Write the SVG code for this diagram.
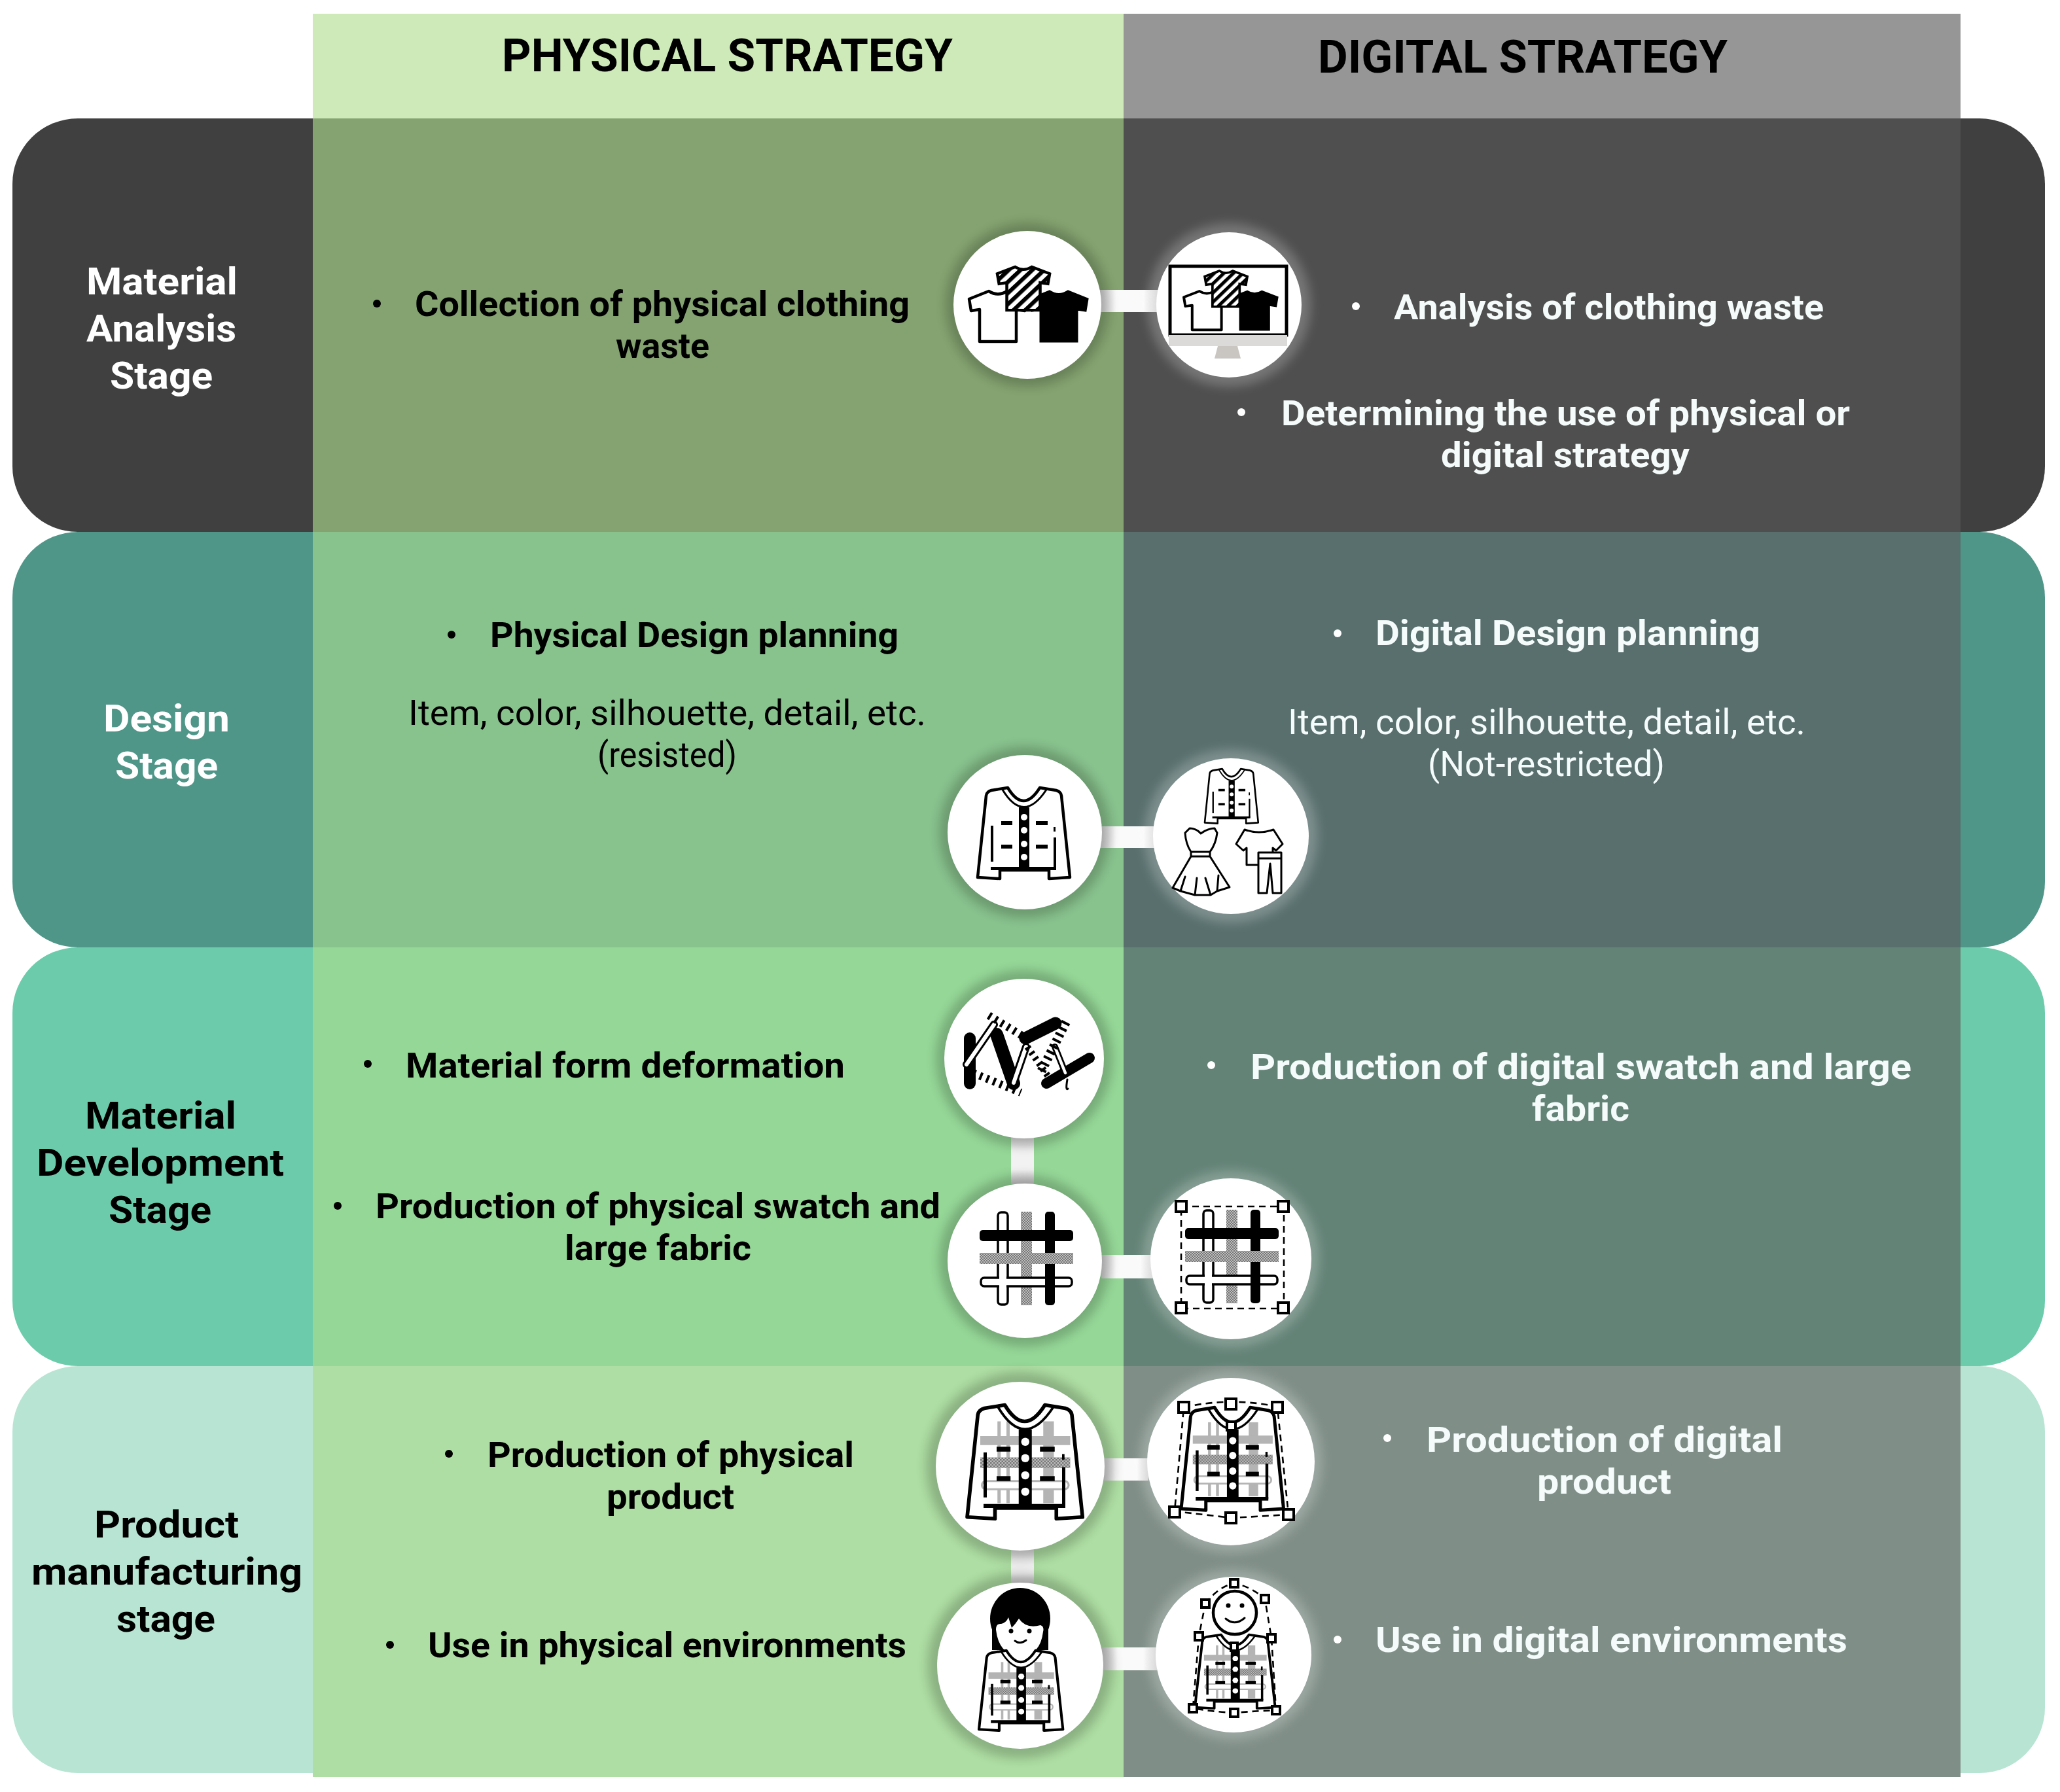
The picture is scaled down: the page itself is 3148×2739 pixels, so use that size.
<svg xmlns="http://www.w3.org/2000/svg" width="3148" height="2739" viewBox="0 0 3148 2739">
<style>
text{font-family:Roboto,"Noto Sans","Liberation Sans",sans-serif;font-weight:700;font-size:54px;fill:#000}
.w{fill:#f4fbfa}
.n{font-weight:400}
.h{font-size:70px;font-weight:700}
.l{font-size:58px;font-weight:700}
.lw{fill:#fff}
.bw{fill:#fff}
.disc{fill:#fff}
.ol{fill:none;stroke:#000;stroke-width:4.5;stroke-linejoin:round;stroke-linecap:round}
.thin{fill:none;stroke:#000;stroke-width:3;stroke-linejoin:round;stroke-linecap:round}
.dash{fill:none;stroke:#000;stroke-width:2.6;stroke-dasharray:10 7}
.hd{fill:#fff;stroke:#000;stroke-width:4}
.cx{fill:url(#cg)}
.cy{fill:url(#cv)}
.gd{fill:#000;opacity:.2;filter:url(#blur)}
.gl{fill:#fff;opacity:.22;filter:url(#blur)}
</style>
<defs>
<filter id="blur" x="-30%" y="-30%" width="160%" height="160%"><feGaussianBlur stdDeviation="8"/></filter>
<linearGradient id="cg"><stop offset="0" stop-color="#cfcfcf"/><stop offset=".28" stop-color="#fafafa"/><stop offset=".75" stop-color="#fafafa"/><stop offset="1" stop-color="#cfcfcf"/></linearGradient>
<linearGradient id="cv" x1="0" y1="0" x2="0" y2="1"><stop offset="0" stop-color="#d2d2d2"/><stop offset=".3" stop-color="#f2f2f2"/><stop offset=".7" stop-color="#f2f2f2"/><stop offset="1" stop-color="#c6c6c6"/></linearGradient>
<pattern id="st" width="14" height="14" patternUnits="userSpaceOnUse" patternTransform="rotate(45)"><rect width="14" height="14" fill="#fff"/><rect width="7" height="14" fill="#000"/></pattern>
<pattern id="ht" width="4" height="4" patternUnits="userSpaceOnUse"><rect width="4" height="4" fill="#bdbdbd"/><rect width="2" height="2" fill="#777"/><rect x="2" y="2" width="2" height="2" fill="#777"/></pattern>
<path id="tee" d="M30 0Q44 9 58 0L88 12L85 30L72 28V77H16V28L3 30L0 12Z"/>
<g id="jk">
<path class="ol" d="M46 2L21 6Q14 8 13 14L0 139L34 141V128H109V141L141 139L128 14Q127 8 120 6L95 2Q70 42 46 2Z"/>
<path class="thin" d="M38 5Q70 58 105 5"/>
<rect x="63" y="32" width="16" height="96"/>
<g class="bw"><circle cx="71" cy="47" r="5"/><circle cx="71" cy="67" r="5"/><circle cx="71" cy="88" r="5"/><circle cx="71" cy="108" r="5"/></g>
<rect x="36" y="53" width="17" height="6"/><rect x="89" y="53" width="18" height="6"/><rect x="36" y="89" width="17" height="6"/><rect x="89" y="89" width="18" height="6"/>
<rect x="20" y="60" width="4" height="55"/><rect x="116" y="78" width="4" height="48"/><rect x="116" y="62" width="3" height="7"/>
<rect x="20" y="123" width="100" height="5"/>
</g>
<g id="jp">
<g fill="#b4b4b4"><rect x="37" y="22" width="4" height="100"/><rect x="48" y="22" width="4" height="100"/><rect x="93" y="22" width="13" height="100"/><rect x="16" y="40" width="110" height="11"/></g>
<rect x="16" y="66" width="110" height="13" fill="url(#ht)"/>
<rect x="18" y="95" width="106" height="10" rx="5" fill="#fff" stroke="#b4b4b4" stroke-width="2.5"/>
<use href="#jk"/>
</g>
<g id="pl">
<rect x="28" y="1" width="15" height="141" rx="5" fill="#fff" stroke="#000" stroke-width="3.5"/>
<rect x="63" y="0" width="17" height="143" fill="url(#ht)"/>
<rect x="100" y="0" width="15" height="143" rx="5"/>
<rect x="0" y="28" width="143" height="17" rx="5"/>
<rect x="0" y="63" width="143" height="17" fill="url(#ht)"/>
<rect x="2" y="101" width="139" height="13" rx="5" fill="#fff" stroke="#000" stroke-width="3.5"/>
<rect x="30" y="97" width="11" height="20" fill="#fff"/>
<rect x="100" y="96" width="15" height="23"/>
</g>
</defs>

<g id="background">
<rect x="0" y="0" width="3148" height="2739" fill="#fff"/>
<rect x="19" y="181" width="3106" height="632" rx="100" fill="#404040"/>
<rect x="19" y="813" width="3106" height="635" rx="100" fill="#4f9689"/>
<rect x="19" y="1448" width="3106" height="640" rx="100" fill="#6ccbab"/>
<rect x="19" y="2088" width="3106" height="622" rx="100" fill="#b8e4d3"/>
<rect x="478" y="21" width="1239" height="160" fill="#cdeab8"/>
<rect x="478" y="181" width="1239" height="632" fill="#84a370"/>
<rect x="478" y="813" width="1239" height="635" fill="#88c28d"/>
<rect x="478" y="1448" width="1239" height="640" fill="#95d797"/>
<rect x="478" y="2088" width="1239" height="628" fill="#aedea3"/>
<rect x="1717" y="21" width="1279" height="160" fill="#969696"/>
<rect x="1717" y="181" width="1279" height="632" fill="#4f4f4f"/>
<rect x="1717" y="813" width="1279" height="635" fill="#586f6d"/>
<rect x="1717" y="1448" width="1279" height="640" fill="#648377"/>
<rect x="1717" y="2088" width="1279" height="628" fill="#7f8e87"/>
</g>

<g id="headers">
<text class="h" x="767" y="109" textLength="689" lengthAdjust="spacingAndGlyphs">PHYSICAL STRATEGY</text>
<text class="h" x="2014" y="111" textLength="626" lengthAdjust="spacingAndGlyphs">DIGITAL STRATEGY</text>
</g>

<g id="stage-labels">
<text class="l lw" x="132" y="450" textLength="231" lengthAdjust="spacingAndGlyphs">Material</text>
<text class="l lw" x="132" y="522" textLength="229" lengthAdjust="spacingAndGlyphs">Analysis</text>
<text class="l lw" x="168" y="594" textLength="157" lengthAdjust="spacingAndGlyphs">Stage</text>
<text class="l lw" x="158" y="1118" textLength="193" lengthAdjust="spacingAndGlyphs">Design</text>
<text class="l lw" x="176" y="1190" textLength="157" lengthAdjust="spacingAndGlyphs">Stage</text>
<text class="l" x="130" y="1725" textLength="231" lengthAdjust="spacingAndGlyphs">Material</text>
<text class="l" x="56" y="1797" textLength="378" lengthAdjust="spacingAndGlyphs">Development</text>
<text class="l" x="166" y="1869" textLength="157" lengthAdjust="spacingAndGlyphs">Stage</text>
<text class="l" x="144" y="2350" textLength="221" lengthAdjust="spacingAndGlyphs">Product</text>
<text class="l" x="48" y="2422" textLength="414" lengthAdjust="spacingAndGlyphs">manufacturing</text>
<text class="l" x="178" y="2494" textLength="151" lengthAdjust="spacingAndGlyphs">stage</text>
</g>

<g id="physical-texts">
<circle cx="576" cy="464" r="6"/>
<text x="634" y="483" textLength="756" lengthAdjust="spacingAndGlyphs">Collection of physical clothing</text>
<text x="941" y="547" textLength="143" lengthAdjust="spacingAndGlyphs">waste</text>
<circle cx="690" cy="970" r="6"/>
<text x="749" y="989" textLength="624" lengthAdjust="spacingAndGlyphs">Physical Design planning</text>
<text class="n" x="624" y="1108" textLength="791" lengthAdjust="spacingAndGlyphs">Item, color, silhouette, detail, etc.</text>
<text class="n" x="913" y="1172" textLength="213" lengthAdjust="spacingAndGlyphs">(resisted)</text>
<circle cx="562" cy="1626" r="6"/>
<text x="620" y="1647" textLength="671" lengthAdjust="spacingAndGlyphs">Material form deformation</text>
<circle cx="516" cy="1843" r="6"/>
<text x="574" y="1862" textLength="863" lengthAdjust="spacingAndGlyphs">Production of physical swatch and</text>
<text x="863" y="1926" textLength="285" lengthAdjust="spacingAndGlyphs">large fabric</text>
<circle cx="686" cy="2222" r="6"/>
<text x="745" y="2242" textLength="560" lengthAdjust="spacingAndGlyphs">Production of physical</text>
<text x="927" y="2306" textLength="195" lengthAdjust="spacingAndGlyphs">product</text>
<circle cx="596" cy="2514" r="6"/>
<text x="654" y="2533" textLength="731" lengthAdjust="spacingAndGlyphs">Use in physical environments</text>
</g>

<g id="digital-texts">
<circle class="disc" cx="2072" cy="468" r="6"/>
<text class="w" x="2130" y="488" textLength="657" lengthAdjust="spacingAndGlyphs">Analysis of clothing waste</text>
<circle class="disc" cx="1897" cy="630" r="6"/>
<text class="w" x="1958" y="650" textLength="869" lengthAdjust="spacingAndGlyphs">Determining the use of physical or</text>
<text class="w" x="2202" y="714" textLength="380" lengthAdjust="spacingAndGlyphs">digital strategy</text>
<circle class="disc" cx="2044" cy="968" r="6"/>
<text class="w" x="2102" y="986" textLength="588" lengthAdjust="spacingAndGlyphs">Digital Design planning</text>
<text class="w n" x="1968" y="1122" textLength="791" lengthAdjust="spacingAndGlyphs">Item, color, silhouette, detail, etc.</text>
<text class="w n" x="2182" y="1186" textLength="362" lengthAdjust="spacingAndGlyphs">(Not-restricted)</text>
<circle class="disc" cx="1851" cy="1628" r="6"/>
<text class="w" x="1911" y="1649" textLength="1010" lengthAdjust="spacingAndGlyphs">Production of digital swatch and large</text>
<text class="w" x="2341" y="1713" textLength="149" lengthAdjust="spacingAndGlyphs">fabric</text>
<circle class="disc" cx="2120" cy="2198" r="6"/>
<text class="w" x="2180" y="2219" textLength="544" lengthAdjust="spacingAndGlyphs">Production of digital</text>
<text class="w" x="2349" y="2283" textLength="205" lengthAdjust="spacingAndGlyphs">product</text>
<circle class="disc" cx="2044" cy="2506" r="6"/>
<text class="w" x="2102" y="2525" textLength="721" lengthAdjust="spacingAndGlyphs">Use in digital environments</text>
</g>

<g id="connectors">
<rect class="cx" x="1680" y="443" width="90" height="34"/>
<rect class="cx" x="1680" y="1263" width="90" height="33"/>
<rect class="cx" x="1683" y="1918" width="80" height="36"/>
<rect class="cx" x="1685" y="2229" width="70" height="34"/>
<rect class="cx" x="1684" y="2518" width="84" height="35"/>
<rect class="cy" x="1545" y="1735" width="35" height="75"/>
<rect class="cy" x="1545" y="2366" width="35" height="56"/>
</g>

<g id="node-collect">
<circle class="gd" cx="1570" cy="466" r="125"/>
<circle cx="1570" cy="466" r="113" fill="#fff"/>
<use href="#tee" transform="translate(1481 445)" fill="#fff" stroke="#000" stroke-width="4.5" stroke-linejoin="round"/>
<use href="#tee" transform="translate(1574 445)" stroke="#000" stroke-width="3"/>
<use href="#tee" transform="translate(1524 408) scale(.91 .86)" fill="url(#st)" stroke="#000" stroke-width="5"/>
</g>

<g id="node-analysis">
<circle class="gl" cx="1878" cy="466" r="125"/>
<circle cx="1878" cy="466" r="111" fill="#fff"/>
<rect x="1788" y="407" width="178" height="105" fill="#fff" stroke="#000" stroke-width="5"/>
<rect x="1786" y="512" width="181" height="17" fill="#dcdad8"/>
<path d="M1861 529H1891L1896 548H1856Z" fill="#c9c6c2"/>
<use href="#tee" transform="translate(1809 445) scale(.8 .77)" fill="#fff" stroke="#000" stroke-width="5" stroke-linejoin="round"/>
<use href="#tee" transform="translate(1882 445) scale(.8 .77)" stroke="#000" stroke-width="3"/>
<use href="#tee" transform="translate(1841 414) scale(.74 .71)" fill="url(#st)" stroke="#000" stroke-width="5"/>
</g>

<g id="node-jacket">
<circle class="gd" cx="1566" cy="1272" r="131"/>
<circle cx="1566" cy="1272" r="118" fill="#fff"/>
<use href="#jk" transform="translate(1494 1202)"/>
</g>

<g id="node-garments">
<circle class="gl" cx="1881" cy="1278" r="133"/>
<circle cx="1881" cy="1278" r="119" fill="#fff"/>
<use href="#jk" transform="translate(1841 1174) scale(.58 .6)"/>
<path class="thin" d="M1811 1273L1818 1266Q1828 1266 1835 1274Q1846 1266 1856 1266L1860 1273Q1858 1290 1849 1302V1309L1879 1356L1860 1362L1850 1368H1826L1804 1362L1792 1357L1820 1309V1302Q1812 1290 1811 1273ZM1820 1302H1849M1820 1309H1849M1811 1340L1804 1362M1829 1342L1826 1368M1842 1342L1850 1368M1862 1338L1860 1362"/>
<path class="thin" d="M1921 1322H1905V1296L1900 1300L1889 1290L1902 1268Q1924 1276 1946 1268L1960 1290L1950 1300L1945 1296V1302"/>
<path class="thin" d="M1923 1303H1958V1365H1945L1941 1320L1936 1365H1923ZM1923 1312H1958"/>
</g>

<g id="node-deform">
<circle class="gd" cx="1565" cy="1618" r="135"/>
<circle cx="1565" cy="1618" r="122" fill="#fff"/>
<g stroke-linecap="round" fill="none">
<path d="M1482 1587V1656" stroke="#000" stroke-width="18"/>
<path d="M1523 1581L1549 1656" stroke="#000" stroke-width="20"/>
<path d="M1567 1587L1613 1564" stroke="#000" stroke-width="19"/>
<path d="M1599 1656L1665 1617" stroke="#000" stroke-width="16"/>
<path d="M1477 1627L1519 1566" stroke="#000" stroke-width="12"/><path d="M1477 1627L1519 1566" stroke="#fff" stroke-width="6"/>
<path d="M1549 1655L1568 1600" stroke="#000" stroke-width="12"/><path d="M1549 1655L1568 1600" stroke="#fff" stroke-width="6"/>
<path d="M1612 1600L1628 1640" stroke="#000" stroke-width="10"/><path d="M1612 1600L1628 1640" stroke="#fff" stroke-width="4.5"/>
<path d="M1631 1650Q1628 1668 1632 1664" stroke="#000" stroke-width="3"/>
<path d="M1511 1552L1575 1591" stroke="#000" stroke-width="12" stroke-dasharray="4 7" stroke-linecap="butt"/>
<path d="M1487 1640L1560 1670" stroke="#000" stroke-width="12" stroke-dasharray="4 7" stroke-linecap="butt"/>
<path d="M1629 1562L1590 1640" stroke="#000" stroke-width="14" stroke-dasharray="4 6" stroke-linecap="butt"/>
<path d="M1570 1600L1605 1650" stroke="#000" stroke-width="10" stroke-dasharray="4 6" stroke-linecap="butt"/>
</g>
</g>

<g id="node-swatch">
<circle class="gd" cx="1566" cy="1927" r="131"/>
<circle cx="1566" cy="1927" r="118" fill="#fff"/>
<use href="#pl" transform="translate(1497 1852)"/>
</g>

<g id="node-digital-swatch">
<circle class="gl" cx="1881" cy="1924" r="135"/>
<circle cx="1881" cy="1924" r="123" fill="#fff"/>
<use href="#pl" transform="translate(1811 1849)"/>
<rect class="dash" x="1805" y="1844" width="157" height="156"/>
<rect class="hd" x="1797" y="1836" width="16" height="16"/>
<rect class="hd" x="1953" y="1836" width="16" height="16"/>
<rect class="hd" x="1797" y="1991" width="16" height="16"/>
<rect class="hd" x="1953" y="1991" width="16" height="16"/>
</g>

<g id="node-product">
<circle class="gd" cx="1559" cy="2241" r="144"/>
<circle cx="1559" cy="2241" r="129" fill="#fff"/>
<use href="#jp" transform="translate(1478 2145) scale(1.25)"/>
</g>

<g id="node-digital-product">
<circle class="gl" cx="1881" cy="2234" r="140"/>
<circle cx="1881" cy="2234" r="128" fill="#fff"/>
<use href="#jp" transform="translate(1805 2149) scale(1.11 1.13)"/>
<path class="dash" d="M1809 2151Q1881 2135 1952 2150L1969 2315Q1920 2318 1881 2320Q1840 2315 1795 2310Z"/>
<rect class="hd" x="1801" y="2143" width="16" height="16"/>
<rect class="hd" x="1944" y="2143" width="16" height="16"/>
<rect class="hd" x="1873" y="2138" width="16" height="16"/>
<rect class="hd" x="1875" y="2173" width="13" height="13"/>
<rect class="hd" x="1787" y="2303" width="16" height="16"/>
<rect class="hd" x="1961" y="2307" width="16" height="16"/>
<rect class="hd" x="1873" y="2312" width="16" height="16"/>
</g>

<g id="node-wearer">
<circle class="gd" cx="1559" cy="2546" r="142"/>
<circle cx="1559" cy="2546" r="127" fill="#fff"/>
<ellipse cx="1559" cy="2474" rx="46" ry="47"/>
<path d="M1516 2490H1602V2522H1516Z"/>
<path d="M1522 2491Q1522 2481 1530 2482Q1538 2480 1541 2472L1546 2488Q1552 2482 1557 2474Q1568 2490 1590 2484Q1596 2486 1594 2494Q1590 2530 1558 2533Q1526 2528 1522 2491Z" fill="#fff"/>
<circle cx="1545" cy="2493" r="3.5"/><circle cx="1573" cy="2493" r="3.5"/>
<path class="thin" d="M1551 2508Q1559 2514 1568 2507"/>
<use href="#jp" transform="translate(1496 2521) scale(.91 .88)"/>
</g>

<g id="node-avatar">
<circle class="gl" cx="1885" cy="2529" r="131"/>
<circle cx="1885" cy="2529" r="119" fill="#fff"/>
<circle cx="1887" cy="2465" r="33" fill="#fff" stroke="#000" stroke-width="4.5"/>
<circle cx="1877" cy="2454" r="3.5"/><circle cx="1898" cy="2454" r="3.5"/>
<path class="thin" d="M1873 2474Q1887 2486 1902 2473"/>
<use href="#jp" transform="translate(1826 2497) scale(.87 .81)"/>
<path class="dash" d="M1842 2451Q1862 2425 1886 2420Q1912 2425 1933 2444L1943 2504L1950 2614Q1920 2615 1886 2618Q1850 2616 1823 2611L1832 2501Z"/>
<rect class="hd" x="1836" y="2445" width="12" height="12"/>
<rect class="hd" x="1927" y="2438" width="12" height="12"/>
<rect class="hd" x="1880" y="2414" width="12" height="12"/>
<rect class="hd" x="1826" y="2495" width="12" height="12"/>
<rect class="hd" x="1937" y="2498" width="12" height="12"/>
<rect class="hd" x="1817" y="2605" width="12" height="12"/>
<rect class="hd" x="1944" y="2608" width="12" height="12"/>
<rect class="hd" x="1880" y="2612" width="12" height="12"/>
<rect class="hd" x="1881" y="2511" width="10" height="12"/>
</g>
</svg>
